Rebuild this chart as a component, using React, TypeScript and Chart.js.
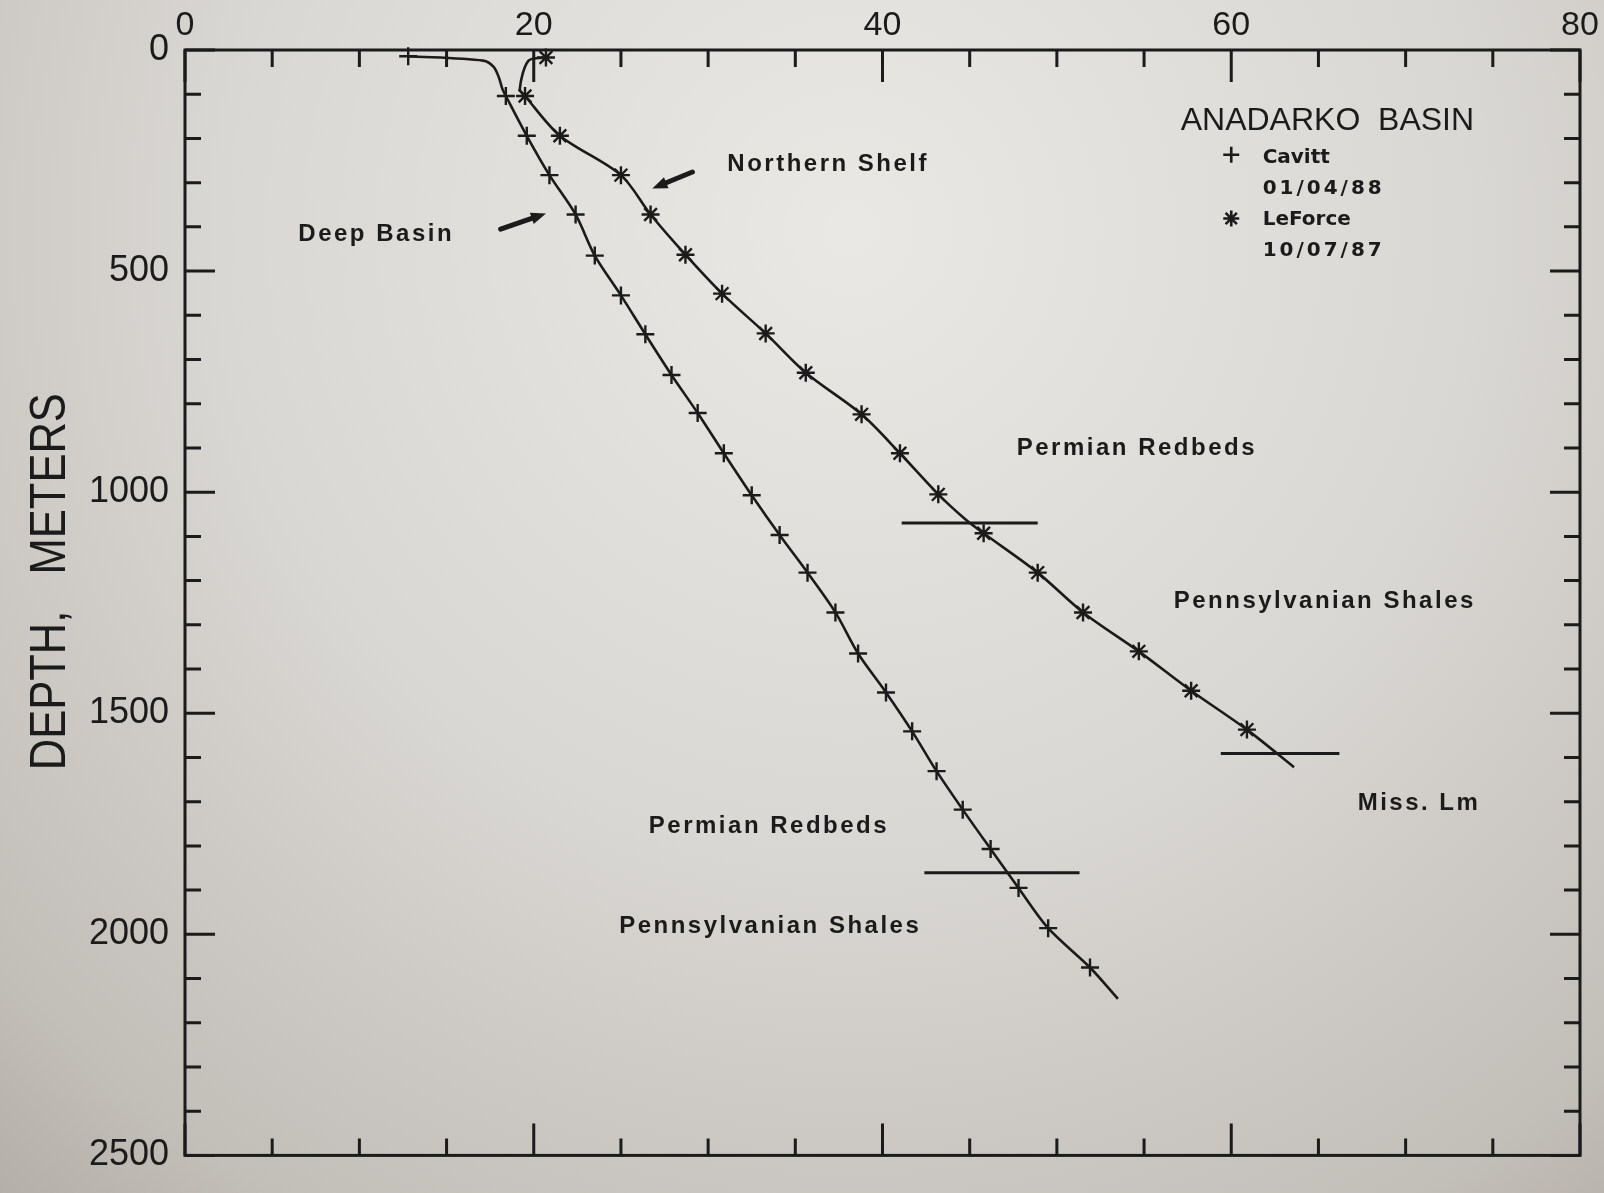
import React, { useEffect, useRef } from 'react';
import { Chart, registerables } from 'chart.js';

Chart.register(...registerables);

// ---------- data (temperature °C vs depth m) ----------
const xTickValues = [0, 20, 40, 60, 80];
const yTickValues = [0, 500, 1000, 1500, 2000, 2500];

const seriesNames = ['Cavitt', 'LeForce'];
const seriesDates = ['01/04/88', '10/07/87'];
const chartTitle = 'ANADARKO  BASIN';
const yAxisTitle = 'DEPTH,   METERS';

// Deep Basin well (+)
const cavittDepth = [14, 104, 194, 283, 372, 465, 555, 643, 735, 821, 912, 1007, 1097, 1182, 1272, 1365, 1453, 1541, 1631, 1718, 1807, 1895, 1986, 2075];
const cavittTemp = [12.8, 18.4, 19.6, 20.9, 22.4, 23.5, 25.0, 26.4, 27.9, 29.4, 30.9, 32.5, 34.1, 35.7, 37.3, 38.6, 40.2, 41.7, 43.1, 44.6, 46.2, 47.8, 49.5, 51.9];
// unmarked points along the traced curve
const cavittCurveDepth = [24, 38, 62, 88, 2146];
const cavittCurveTemp = [17.1, 17.7, 18.0, 18.2, 53.5];

// Northern Shelf well (*)
const leforceDepth = [17, 104, 194, 283, 372, 463, 551, 641, 730, 824, 912, 1005, 1093, 1182, 1272, 1360, 1449, 1537];
const leforceTemp = [20.7, 19.5, 21.5, 25.0, 26.7, 28.7, 30.8, 33.3, 35.6, 38.8, 41.0, 43.2, 45.8, 48.9, 51.5, 54.7, 57.7, 60.9];
const leforceCurveDepth = [24, 88, 1063, 1622];
const leforceCurveTemp = [19.7, 19.2, 44.8, 63.6];

// formation tops: [depth, tempFrom, tempTo]
const boundaryDepth = [1070, 1591, 1861];
const boundaryFrom = [41.1, 59.4, 42.4];
const boundaryTo = [48.9, 66.2, 51.3];

// annotations (left edge temp, depth)
const noteText = ['Northern Shelf', 'Deep Basin', 'Permian Redbeds', 'Pennsylvanian Shales', 'Miss. Lm', 'Permian Redbeds', 'Pennsylvanian Shales'];
const noteTemp = [31.1, 6.5, 47.7, 56.7, 67.25, 26.6, 24.9];
const noteDepth = [258, 417, 901, 1247, 1703, 1755, 1981];

// arrows: tail -> head
const arrowTailTemp = [29.1, 18.1];
const arrowTailDepth = [276, 405];
const arrowHeadTemp = [26.8, 20.7];
const arrowHeadDepth = [313, 370];

// legend placement (temp, depth)
const legendTitlePos = [57.1, 161];
const legendMarkTemp = 60.0;
const legendMarkDepth = [237, 381];
const legendTextTemp = 61.8;
const legendLineDepth = [244, 313, 384, 454];

// ---------- helpers ----------
const INK = '#1b1b1b';
const SANS = '"Liberation Sans", Arial, Helvetica, sans-serif';

const toPts = (xs: number[], ys: number[]) => xs.map((x, i) => ({ x, y: ys[i] }));
const pathOf = (tA: number[], dA: number[], tB: number[], dB: number[]) =>
  [...toPts(tA, dA), ...toPts(tB, dB)].sort((p, q) => p.y - q.y);

const paperPlugin = {
  id: 'paper',
  beforeDraw(chart: any) {
    const { ctx, width, height } = chart;
    ctx.save();
    const g = ctx.createRadialGradient(850, 230, 0, 850, 230, 1400);
    g.addColorStop(0, '#e9e8e5');
    g.addColorStop(0.45, '#d9d7d3');
    g.addColorStop(0.8, '#c2beb8');
    g.addColorStop(1, '#aaa59d');
    ctx.fillStyle = g;
    ctx.fillRect(0, 0, width, height);
    ctx.restore();
  },
};

const framePlugin = {
  id: 'frame',
  beforeDatasetsDraw(chart: any) {
    const { ctx, chartArea: a } = chart;
    const x = chart.scales.x;
    const y = chart.scales.y;
    ctx.save();
    ctx.strokeStyle = INK;
    ctx.lineWidth = 3;
    ctx.strokeRect(a.left, a.top, a.right - a.left, a.bottom - a.top);
    ctx.beginPath();
    const xMajor = xTickValues[1] - xTickValues[0];
    for (let v = x.min; v <= x.max; v += xMajor / 4) {
      const px = x.getPixelForValue(v);
      const len = v % xMajor === 0 ? 32 : 17;
      ctx.moveTo(px, a.top);
      ctx.lineTo(px, a.top + len);
      ctx.moveTo(px, a.bottom);
      ctx.lineTo(px, a.bottom - len);
    }
    const yMajor = yTickValues[1] - yTickValues[0];
    for (let d = y.min; d <= y.max; d += yMajor / 5) {
      const py = y.getPixelForValue(d);
      const len = d % yMajor === 0 ? 30 : 16;
      ctx.moveTo(a.left, py);
      ctx.lineTo(a.left + len, py);
      ctx.moveTo(a.right, py);
      ctx.lineTo(a.right - len, py);
    }
    ctx.stroke();
    ctx.restore();
  },
};

function drawArrow(ctx: any, x1: number, y1: number, x2: number, y2: number) {
  const ang = Math.atan2(y2 - y1, x2 - x1);
  const hl = 15;
  const hw = 6;
  const bx = x2 - hl * Math.cos(ang);
  const by = y2 - hl * Math.sin(ang);
  ctx.beginPath();
  ctx.lineWidth = 5;
  ctx.lineCap = 'round';
  ctx.moveTo(x1, y1);
  ctx.lineTo(bx, by);
  ctx.stroke();
  ctx.beginPath();
  ctx.moveTo(x2, y2);
  ctx.lineTo(bx + hw * Math.sin(ang), by - hw * Math.cos(ang));
  ctx.lineTo(bx - hw * Math.sin(ang), by + hw * Math.cos(ang));
  ctx.closePath();
  ctx.fill();
}

function drawMark(ctx: any, style: string, cx: number, cy: number, r: number) {
  ctx.beginPath();
  ctx.moveTo(cx - r, cy);
  ctx.lineTo(cx + r, cy);
  ctx.moveTo(cx, cy - r);
  ctx.lineTo(cx, cy + r);
  if (style === 'star') {
    const k = r * Math.SQRT1_2;
    ctx.moveTo(cx - k, cy - k);
    ctx.lineTo(cx + k, cy + k);
    ctx.moveTo(cx - k, cy + k);
    ctx.lineTo(cx + k, cy - k);
  }
  ctx.stroke();
}

const notesPlugin = {
  id: 'notes',
  afterDatasetsDraw(chart: any) {
    const { ctx, chartArea: a } = chart;
    const x = chart.scales.x;
    const y = chart.scales.y;
    ctx.save();
    ctx.fillStyle = INK;
    ctx.strokeStyle = INK;

    // region labels
    ctx.font = `bold 24px ${SANS}`;
    ctx.textAlign = 'left';
    ctx.textBaseline = 'middle';
    (ctx as any).letterSpacing = '2.5px';
    noteText.forEach((t, i) => {
      ctx.fillText(t, x.getPixelForValue(noteTemp[i]), y.getPixelForValue(noteDepth[i]));
    });
    (ctx as any).letterSpacing = '0px';

    // arrows
    arrowTailTemp.forEach((_, i) => {
      drawArrow(
        ctx,
        x.getPixelForValue(arrowTailTemp[i]),
        y.getPixelForValue(arrowTailDepth[i]),
        x.getPixelForValue(arrowHeadTemp[i]),
        y.getPixelForValue(arrowHeadDepth[i])
      );
    });

    // legend block
    ctx.font = `32px ${SANS}`;
    ctx.fillText(chartTitle, x.getPixelForValue(legendTitlePos[0]), y.getPixelForValue(legendTitlePos[1]));
    ctx.lineWidth = 2.6;
    ctx.lineCap = 'butt';
    const styles = ['cross', 'star'];
    styles.forEach((s, i) => {
      drawMark(ctx, s, x.getPixelForValue(legendMarkTemp), y.getPixelForValue(legendMarkDepth[i]), 8);
    });
    const tx = x.getPixelForValue(legendTextTemp);
    ctx.font = `bold 20px "DejaVu Sans", ${SANS}`;
    seriesNames.forEach((n, i) => {
      (ctx as any).letterSpacing = '0px';
      ctx.fillText(n, tx, y.getPixelForValue(legendLineDepth[i * 2]));
      (ctx as any).letterSpacing = '3px';
      ctx.fillText(seriesDates[i], tx, y.getPixelForValue(legendLineDepth[i * 2 + 1]));
    });
    (ctx as any).letterSpacing = '0px';

    // y axis title (condensed lettering)
    ctx.save();
    ctx.translate(a.left - 134, (a.top + a.bottom) / 2 - 21);
    ctx.rotate(-Math.PI / 2);
    ctx.scale(0.87, 1);
    ctx.font = `50px ${SANS}`;
    ctx.textAlign = 'center';
    ctx.textBaseline = 'middle';
    ctx.fillText(yAxisTitle, 0, 0);
    ctx.restore();

    ctx.restore();
  },
};

export default function App() {
  const ref = useRef<HTMLCanvasElement | null>(null);

  useEffect(() => {
    if (!ref.current) return;
    const lineBase = {
      showLine: true,
      pointRadius: 0,
      pointHoverRadius: 0,
      borderColor: INK,
      backgroundColor: INK,
      borderWidth: 2.6,
      tension: 0.3,
      fill: false,
    };
    const boundarySets = boundaryDepth.map((d, i) => ({
      ...lineBase,
      label: `boundary ${i + 1}`,
      data: [
        { x: boundaryFrom[i], y: d },
        { x: boundaryTo[i], y: d },
      ],
      borderWidth: 3,
      tension: 0,
    }));

    const chart = new Chart(ref.current, {
      type: 'scatter',
      data: {
        datasets: [
          ...boundarySets,
          {
            ...lineBase,
            label: seriesNames[0] + ' curve',
            data: pathOf(cavittTemp, cavittDepth, cavittCurveTemp, cavittCurveDepth),
          },
          {
            ...lineBase,
            label: seriesNames[1] + ' curve',
            data: pathOf(leforceTemp, leforceDepth, leforceCurveTemp, leforceCurveDepth),
          },
          {
            label: seriesNames[0],
            data: toPts(cavittTemp, cavittDepth),
            showLine: false,
            pointStyle: 'cross',
            pointRadius: 9,
            pointBorderWidth: 2.4,
            borderColor: INK,
            backgroundColor: INK,
            clip: false,
          },
          {
            label: seriesNames[1],
            data: toPts(leforceTemp, leforceDepth),
            showLine: false,
            pointStyle: 'star',
            pointRadius: 9,
            pointBorderWidth: 2.4,
            borderColor: INK,
            backgroundColor: INK,
            clip: false,
          },
        ] as any,
      },
      options: {
        animation: false,
        responsive: false,
        events: [],
        layout: { padding: { left: 0, right: 24, top: 0, bottom: 21 } },
        plugins: {
          legend: { display: false },
          tooltip: { enabled: false },
          title: { display: false },
        },
        scales: {
          x: {
            type: 'linear',
            position: 'top',
            min: xTickValues[0],
            max: xTickValues[xTickValues.length - 1],
            afterBuildTicks: (s: any) => {
              s.ticks = xTickValues.map((v) => ({ value: v }));
            },
            ticks: {
              color: INK,
              font: { family: SANS, size: 34 },
              padding: 4,
              autoSkip: false,
              maxRotation: 0,
              callback: (v: any) => String(v),
            },
            grid: { display: false, drawTicks: false },
            border: { display: false },
            afterFit: (s: any) => {
              s.height = 50;
            },
          },
          y: {
            type: 'linear',
            reverse: true,
            min: yTickValues[0],
            max: yTickValues[yTickValues.length - 1],
            afterBuildTicks: (s: any) => {
              s.ticks = yTickValues.map((v) => ({ value: v }));
            },
            ticks: {
              color: INK,
              font: { family: SANS, size: 36 },
              padding: 16,
              autoSkip: false,
              callback: (v: any) => String(v),
            },
            grid: { display: false, drawTicks: false },
            border: { display: false },
            afterFit: (s: any) => {
              s.width = 185;
            },
          },
        },
      } as any,
      plugins: [paperPlugin, framePlugin, notesPlugin],
    });
    return () => chart.destroy();
  }, []);

  return (
    <div style={{ position: 'fixed', left: 0, top: 0, width: 1604, height: 1193 }}>
      <canvas ref={ref} width={1604} height={1193} style={{ display: 'block', width: 1604, height: 1193 }} />
    </div>
  );
}
